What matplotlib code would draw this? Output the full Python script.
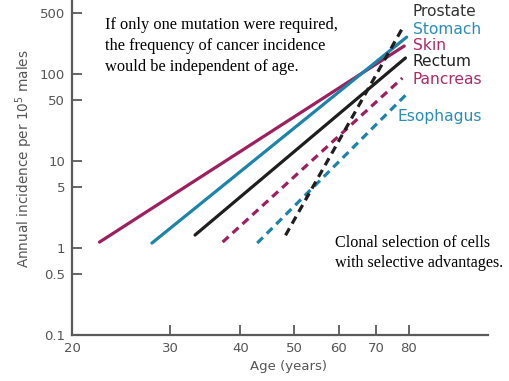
import matplotlib
matplotlib.use("Agg")
import matplotlib.pyplot as plt
from matplotlib.ticker import FixedLocator, NullLocator

# Incidence vs age (log-log), end points
skin_age = [22.4, 78.6]
skin_rate = [1.17, 210]
stomach_age = [27.8, 79.4]
stomach_rate = [1.14, 266]
rectum_age = [33.2, 79.0]
rectum_rate = [1.41, 153]
pancreas_age = [37.2, 78.0]
pancreas_rate = [1.17, 90]
esophagus_age = [42.9, 79.0]
esophagus_rate = [1.14, 57]
prostate_age = [48.2, 78.6]
prostate_rate = [1.4, 366]

x_ticks = [20, 30, 40, 50, 60, 70, 80]
y_ticks = [0.1, 0.5, 1, 5, 10, 50, 100, 500]
y_tick_labels = ["0.1", "0.5", "1", "5", "10", "50", "100", "500"]

MAGENTA = "#9e1f5e"
TEAL = "#1b84a8"
BLACK = "#1e1e1e"
AXIS_GRAY = "#5a5a5a"

W, H = 510, 381
fig = plt.figure(figsize=(W / 100, H / 100), dpi=100)
ax = fig.add_axes([72 / W, 1 - 335 / H, (488 - 72) / W, 335 / H])

lw = 2.3
dash = (2.5, 1.7)
ax.plot(skin_age, skin_rate, color=MAGENTA, lw=lw, solid_capstyle="round")
ax.plot(stomach_age, stomach_rate, color=TEAL, lw=lw, solid_capstyle="round")
ax.plot(rectum_age, rectum_rate, color=BLACK, lw=lw, solid_capstyle="round")
ax.plot(pancreas_age, pancreas_rate, color=MAGENTA, lw=lw, dashes=dash)
ax.plot(esophagus_age, esophagus_rate, color=TEAL, lw=lw, dashes=dash)
ax.plot(prostate_age, prostate_rate, color=BLACK, lw=lw, dashes=dash)

ax.set_xscale("log")
ax.set_yscale("log")
ax.set_xlim(20, 111)
ax.set_ylim(0.1, 710)

ax.xaxis.set_major_locator(FixedLocator(x_ticks))
ax.xaxis.set_minor_locator(NullLocator())
ax.set_xticklabels([str(v) for v in x_ticks])
ax.yaxis.set_major_locator(FixedLocator(y_ticks))
ax.yaxis.set_minor_locator(NullLocator())
ax.set_yticklabels(y_tick_labels)

for side in ["top", "right"]:
    ax.spines[side].set_visible(False)
for side in ["left", "bottom"]:
    ax.spines[side].set_color(AXIS_GRAY)
    ax.spines[side].set_linewidth(1.6)

ax.tick_params(direction="in", length=7.5, width=1.3, color=AXIS_GRAY,
               labelcolor="#555555", labelsize=9.5, pad=5)

ax.set_xlabel("Age (years)", fontsize=9.5, color="#555555", labelpad=4)
ax.xaxis.set_label_coords(0.52, -0.075)
ax.set_ylabel("Annual incidence per 10$^5$ males", fontsize=9.8,
              color="#555555")
ax.yaxis.set_label_coords(-0.09, 0.525)

# labels next to line ends
def px(x, y):
    return x / W, 1 - y / H

labels = [("Prostate", "#333333", 413, 12),
          ("Stomach", "#2a8db5", 413, 30),
          ("Skin", "#a82c6a", 413, 46),
          ("Rectum", "#222222", 413, 62),
          ("Pancreas", "#a82c6a", 413, 80),
          ("Esophagus", "#2a8db5", 398, 116)]
for text, col, x, y in labels:
    fx, fy = px(x, y)
    fig.text(fx, fy, text, color=col, fontsize=11.2, ha="left", va="center")

fx, fy = px(105, 17)
fig.text(fx, fy, "If only one mutation were required,\n"
         "the frequency of cancer incidence\n"
         "would be independent of age.",
         family="Liberation Serif", fontsize=11.8, ha="left", va="top",
         linespacing=1.4)

fx, fy = px(335, 235)
fig.text(fx, fy, "Clonal selection of cells\nwith selective advantages.",
         family="Liberation Serif", fontsize=11.6, ha="left", va="top",
         linespacing=1.3)

fig.savefig("out.png", dpi=100)
